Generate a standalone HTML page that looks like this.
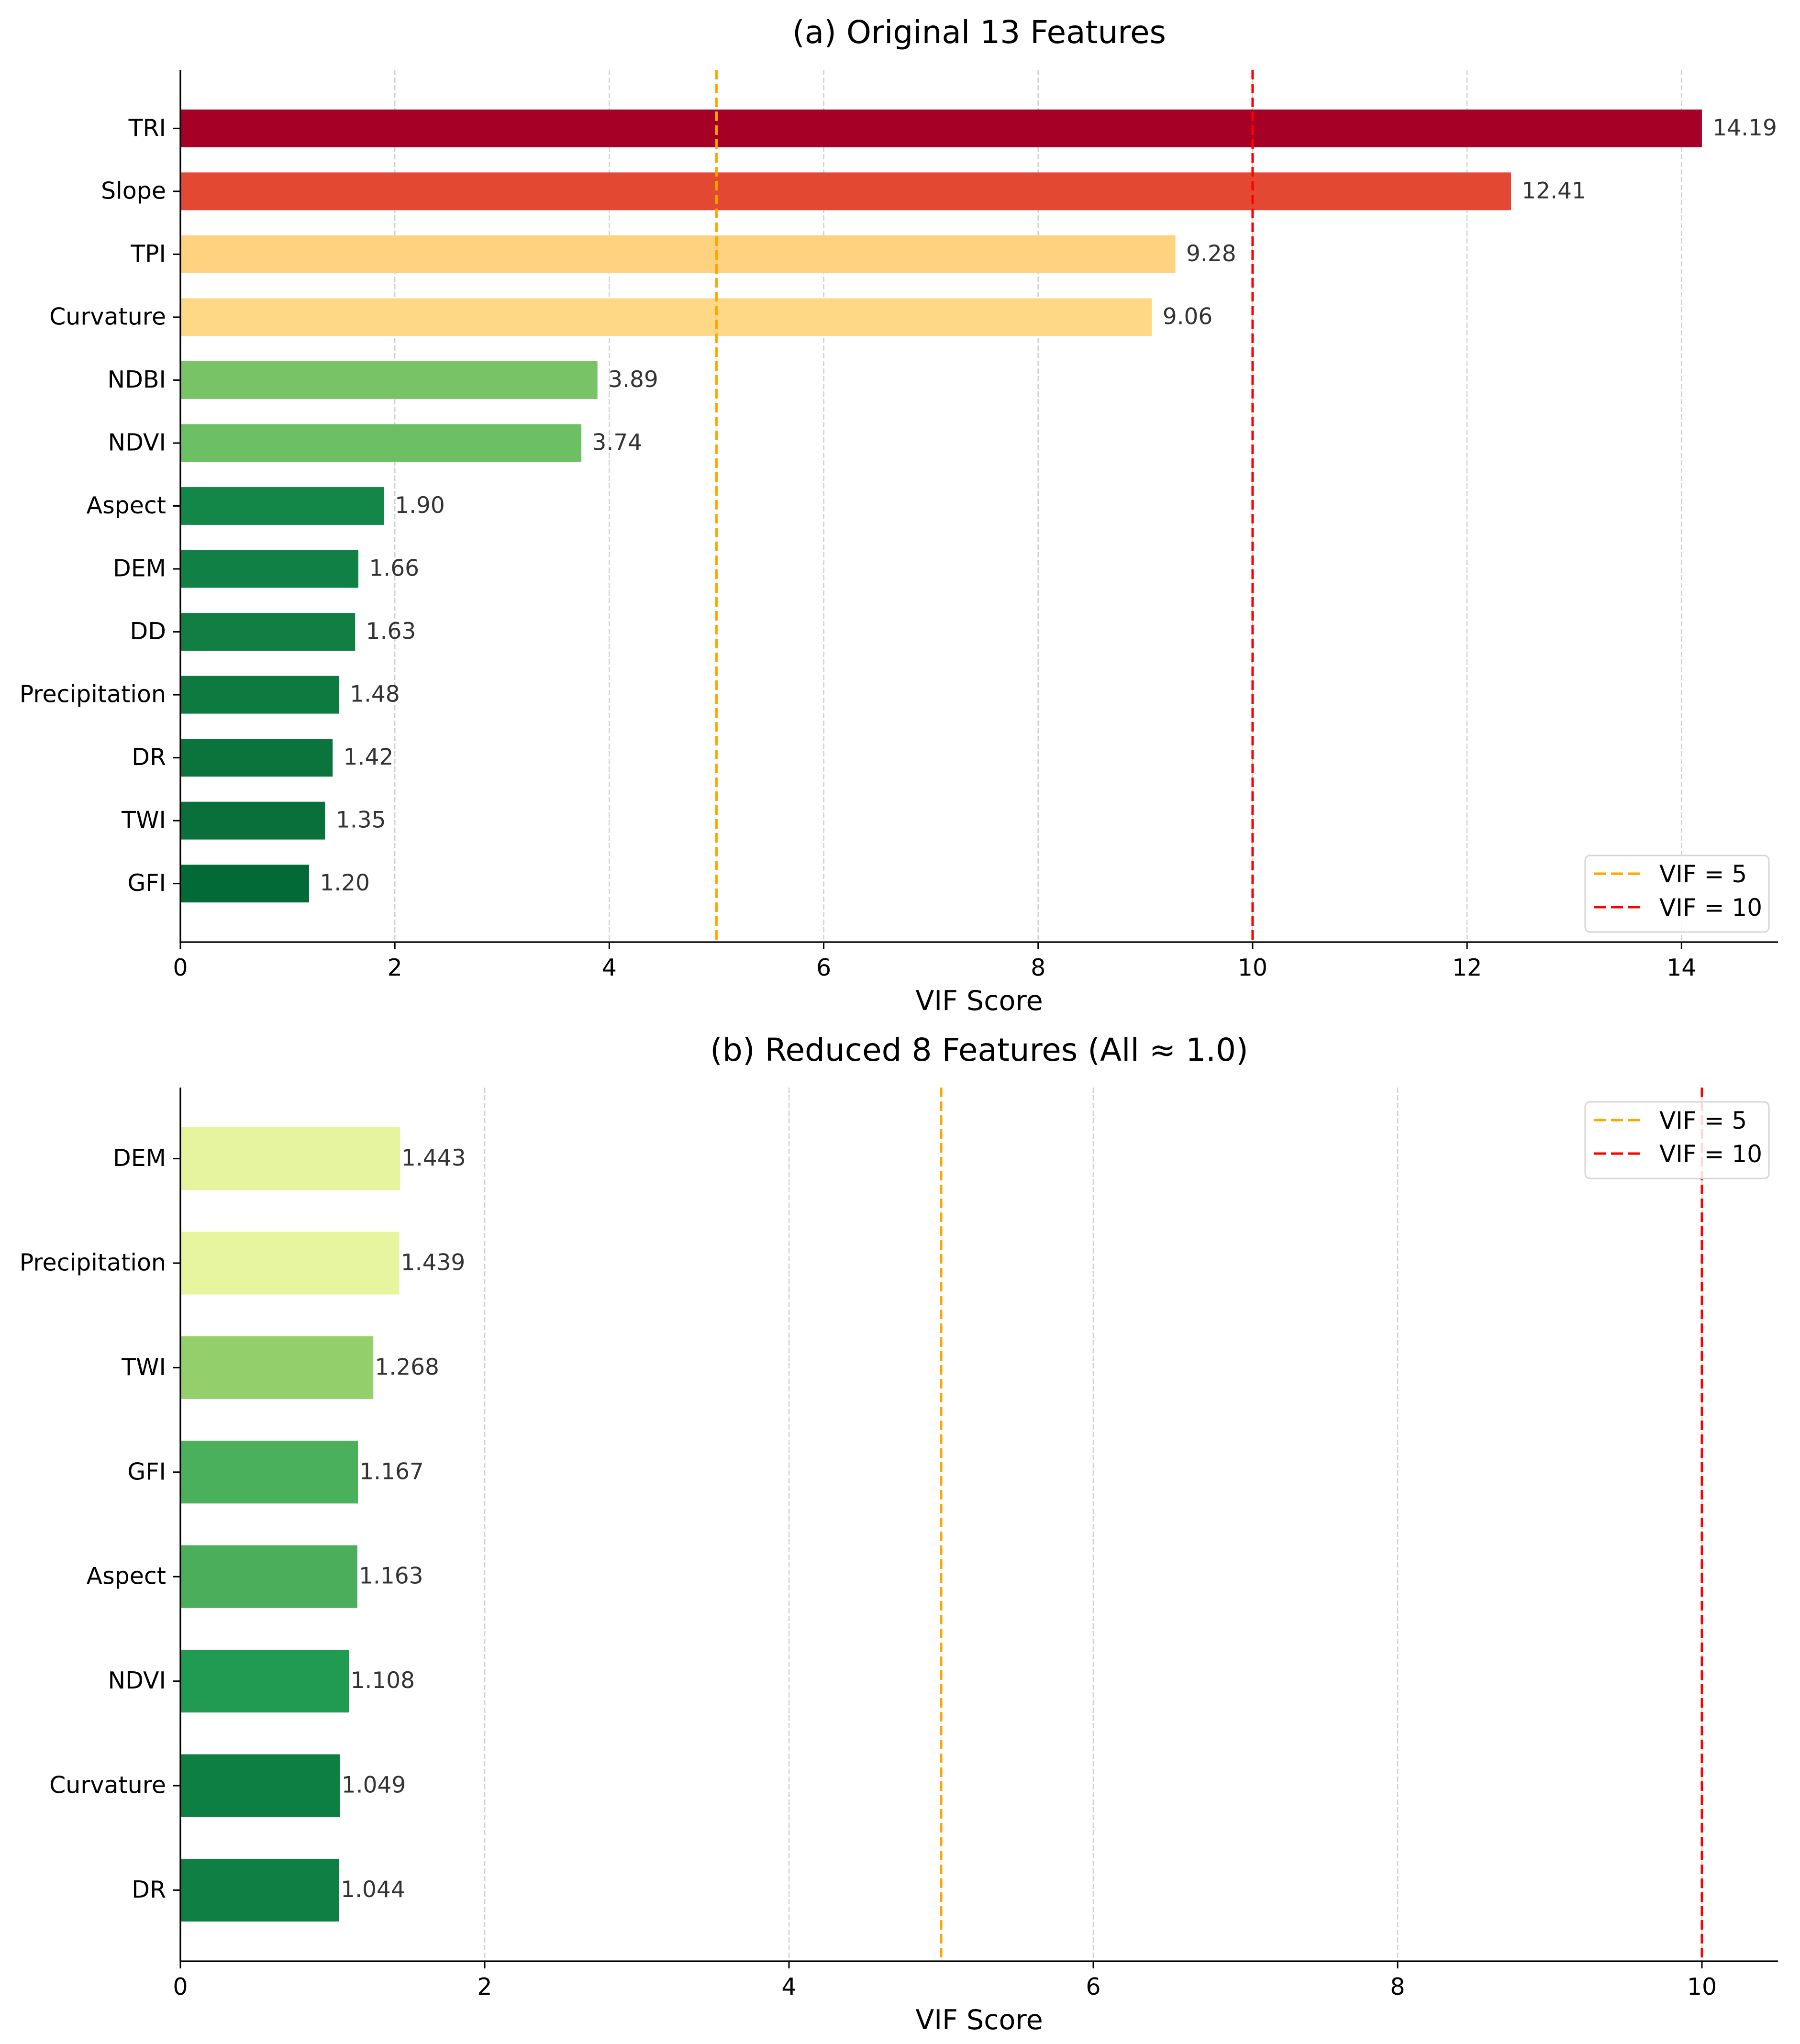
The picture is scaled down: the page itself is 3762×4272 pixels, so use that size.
<!DOCTYPE html>
<html><head><meta charset="utf-8">
<style>
html,body{margin:0;padding:0;background:#fff;}
svg{display:block;font-family:"DejaVu Sans","Liberation Sans",sans-serif;}
</style></head>
<body>
<svg id="chart" width="3762" height="4272" viewBox="0 0 3762 4272" xmlns="http://www.w3.org/2000/svg"></svg>
<script>
const catsA = ["TRI","Slope","TPI","Curvature","NDBI","NDVI","Aspect","DEM","DD","Precipitation","DR","TWI","GFI"];
const valsA = [14.19,12.41,9.28,9.06,3.89,3.74,1.90,1.66,1.63,1.48,1.42,1.35,1.20];
const colorsA = ["#a50026","#e34832","#fed27f","#fed884","#78c365","#6dbf64","#138747","#118045","#117f43","#0d7a40","#0b743d","#0a703b","#026a37"];
const ticksA = [0,2,4,6,8,10,12,14];
const catsB = ["DEM","Precipitation","TWI","GFI","Aspect","NDVI","Curvature","DR"];
const valsB = [1.443,1.439,1.268,1.167,1.163,1.108,1.049,1.044];
const colorsB = ["#e6f59d","#e6f59e","#93cf6a","#4bb05c","#4bae5b","#219b52","#0e7f43","#0f7f43"];
const ticksB = [0,2,4,6,8,10];
const refVals = [5,10];
const refColors = ["#ffa500","#ff0000"];
const refLabels = ["VIF = 5","VIF = 10"];

const NS="http://www.w3.org/2000/svg";
const svg=document.getElementById('chart');
function mk(tag,attrs,parent){const e=document.createElementNS(NS,tag);for(const k in attrs)e.setAttribute(k,attrs[k]);(parent||svg).appendChild(e);return e;}

function panel(o){
  const g=mk('g',{});
  
  
  const L=377,R=3716,T=o.top,B=o.bottom;
  const n=o.cats.length;
  const pad=0.05*(n-1+0.6);
  const y0=-0.3-pad, y1=n-1+0.3+pad;
  const sx=v=>L+(v-0)/(o.xmax)*(R-L);
  const sy=i=>T+(i-y0)/(y1-y0)*(B-T);
  o.ticks.forEach(t=>{
    const gl=mk('line',{x1:sx(t),x2:sx(t),y1:T,y2:B,stroke:'#d0d0d0','stroke-width':2.5,'stroke-dasharray':'11,5'},g);
    
    
  });
  o.cats.forEach((c,i)=>{
    const bh=0.6*(B-T)/(y1-y0);
    const r=mk('rect',{x:sx(0),y:sy(i)-bh/2,width:sx(o.vals[i])-sx(0),height:bh,fill:o.colors[i]},g);
    
    
    const t=mk('text',{x:sx(o.vals[i]+o.lblOff),y:sy(i)+2,'font-size':47,fill:'#333','dominant-baseline':'middle'},g);
    t.textContent=o.vals[i].toFixed(o.dec);
    
    
    const tk=mk('line',{x1:L-15,x2:L,y1:sy(i),y2:sy(i),stroke:'#000','stroke-width':3},g);
    
    
    const yl=mk('text',{x:L-30,y:sy(i)+2,'font-size':49,fill:'#000','text-anchor':'end','dominant-baseline':'middle'},g);
    yl.textContent=c;
    
    
  });
  refVals.forEach((v,k)=>{
    const rl=mk('line',{x1:sx(v),x2:sx(v),y1:T,y2:B,stroke:refColors[k],'stroke-width':5,'stroke-dasharray':'20,9'},g);
    
    
  });
  const sp1=mk('line',{x1:L,x2:L,y1:T,y2:B+1.5,stroke:'#000','stroke-width':3.3},g);
  
  
  const sp2=mk('line',{x1:L-1.5,x2:R,y1:B,y2:B,stroke:'#000','stroke-width':3.3},g);
  
  
  o.ticks.forEach(t=>{
    const tk=mk('line',{x1:sx(t),x2:sx(t),y1:B,y2:B+15,stroke:'#000','stroke-width':3},g);
    
    
    const tl=mk('text',{x:sx(t),y:B+70,'font-size':49,fill:'#000','text-anchor':'middle'},g);
    tl.textContent=t;
    
    
  });
  const xt=mk('text',{x:(L+R)/2,y:B+142,'font-size':57,fill:'#000','text-anchor':'middle'},g);
  xt.textContent='VIF Score';
  
  
  const tt=mk('text',{x:(L+R)/2,y:T-56,'font-size':66,fill:'#000','text-anchor':'middle'},g);
  tt.textContent=o.title;
  
  
  const lg=mk('g',{},g);
  
  
  mk('rect',{x:3313,y:o.legY,width:384,height:160,rx:10,fill:'#fff','fill-opacity':0.85,stroke:'#d6d6d6','stroke-width':3},lg);
  refLabels.forEach((lab,k)=>{
    const yy=o.legY+38+k*70;
    const hl=mk('line',{x1:3332,x2:3427,y1:yy,y2:yy,stroke:refColors[k],'stroke-width':5,'stroke-dasharray':'25,10'},lg);
    
    
    const lt=mk('text',{x:3468,y:yy+18,'font-size':50,fill:'#000'},lg);
    lt.textContent=lab;
    
    
  });
}
panel({name:'panel-a',top:146,bottom:1969,xmax:14.9,cats:catsA,vals:valsA,colors:colorsA,ticks:ticksA,lblOff:0.1,dec:2,title:'(a) Original 13 Features',legY:1788});
panel({name:'panel-b',top:2273,bottom:4099,xmax:10.5,cats:catsB,vals:valsB,colors:colorsB,ticks:ticksB,lblOff:0.01,dec:3,title:'(b) Reduced 8 Features (All \u2248 1.0)',legY:2303});
</script>
</body></html>
